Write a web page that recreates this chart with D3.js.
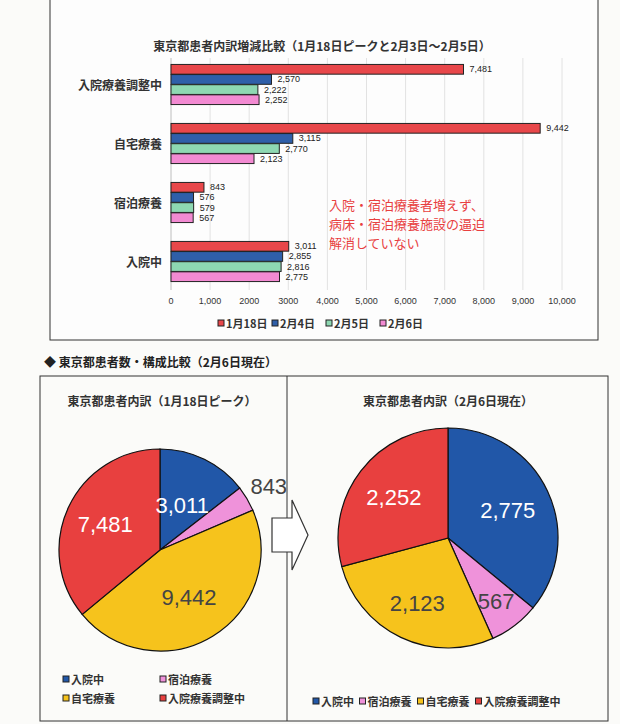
<!DOCTYPE html><html><head><meta charset="utf-8"><script src="https://cdn.jsdelivr.net/npm/d3@7"></script>
<style>body{margin:0;background:#fbfbf9}text{font-family:"Noto Sans CJK JP",sans-serif}text.num{font-family:"Liberation Sans",Arial,sans-serif}</style></head><body><svg id="c" width="620" height="724"></svg>
<script>
const categories=["入院療養調整中","自宅療養","宿泊療養","入院中"];
const seriesNames=["1月18日","2月4日","2月5日","2月6日"];
const jan18=[7481,9442,843,3011];
const feb4=[2570,3115,576,2855];
const feb5=[2222,2770,579,2816];
const feb6=[2252,2123,567,2775];
const ticks=[0,1000,2000,3000,4000,5000,6000,7000,8000,9000,10000];
const pieCats=["入院中","宿泊療養","自宅療養","入院療養調整中"];
const pieJan18=[3011,843,9442,7481];
const pieFeb6=[2775,567,2123,2252];
const barColors=["#e8474a","#2f5fa9","#8ed8b2","#f28ad2"];
const pieColors=["#2157a8","#ef92da","#f6c31c","#e8403f"];
const svg=d3.select("#c");
svg.append("rect").attr("x",50).attr("y",-2).attr("width",548).attr("height",342).attr("fill","#fdfdfd").attr("stroke","#333");
svg.append("text").attr("x",322).attr("y",51).attr("text-anchor","middle").attr("font-size",12).attr("font-weight","bold").attr("fill","#333").text("東京都患者内訳増減比較（1月18日ピークと2月3日～2月5日）");
const x=d3.scaleLinear().domain([0,10000]).range([171,562]);
const y=d3.scaleBand().domain(categories).range([55,291]).paddingInner(0.32).paddingOuter(0.16);
const ser=[jan18,feb4,feb5,feb6];
svg.append("g").selectAll("line").data(ticks).join("line").attr("x1",d=>x(d)).attr("x2",d=>x(d)).attr("y1",58).attr("y2",290).attr("stroke","#e2e2e2");
svg.append("line").attr("x1",171).attr("x2",171).attr("y1",58).attr("y2",290).attr("stroke","#ccc");
categories.forEach((c,i)=>{
  const sb=d3.scaleBand().domain(d3.range(4)).range([y(c),y(c)+y.bandwidth()]).paddingInner(0.04);
  ser.forEach((s,j)=>{
    svg.append("rect").attr("x",x(0)).attr("y",sb(j)).attr("width",x(s[i])-x(0)).attr("height",sb.bandwidth()).attr("fill",barColors[j]).attr("stroke","#222").attr("stroke-width",1);
    svg.append("text").attr("class","num").attr("x",x(s[i])+6).attr("y",sb(j)+sb.bandwidth()/2+3).attr("font-size",9).attr("fill","#222").text(d3.format(",")(s[i]));
  });
  svg.append("text").attr("x",162).attr("y",y(c)+y.bandwidth()/2+5).attr("text-anchor","end").attr("font-size",12).attr("font-weight","bold").attr("fill","#333").text(c);
});
svg.append("g").selectAll("text").data(ticks).join("text").attr("class","num").attr("x",d=>x(d)).attr("y",304).attr("text-anchor","middle").attr("font-size",9).attr("fill","#333").text(d=>d3.format(",")(d).replace(/^([23]),000$/,"$1000"));
seriesNames.forEach((n,i)=>{
  const lx=218+i*54;
  svg.append("rect").attr("x",lx).attr("y",320).attr("width",6).attr("height",6).attr("fill",barColors[i]).attr("stroke","#222");
  svg.append("text").attr("x",lx+8).attr("y",328).attr("font-size",11).attr("font-weight","bold").attr("fill","#333").text(n);
});
["入院・宿泊療養者増えず、","病床・宿泊療養施設の逼迫","解消していない"].forEach((t,i)=>svg.append("text").attr("x",329).attr("y",210+i*19).attr("font-size",13).attr("fill","#e8403f").text(t));
svg.append("text").attr("x",44).attr("y",367).attr("font-size",12).attr("font-weight","bold").attr("fill","#222").text("◆ 東京都患者数・構成比較（2月6日現在）");
svg.append("rect").attr("x",40).attr("y",376).attr("width",568).attr("height",345).attr("fill","none").attr("stroke","#333");
svg.append("line").attr("x1",287).attr("x2",287).attr("y1",376).attr("y2",721).attr("stroke","#333");
svg.append("text").attr("x",162).attr("y",406).attr("text-anchor","middle").attr("font-size",12).attr("font-weight","bold").attr("fill","#333").text("東京都患者内訳（1月18日ピーク）");
svg.append("text").attr("x",448).attr("y",406).attr("text-anchor","middle").attr("font-size",12).attr("font-weight","bold").attr("fill","#333").text("東京都患者内訳（2月6日現在）");
function pie(vals,cx,cy,r,labelCols,labelPos){
  const arcs=d3.pie().sort(null)(vals);
  const g=svg.append("g").attr("transform",`translate(${cx},${cy})`);
  g.selectAll("path").data(arcs).join("path").attr("d",d3.arc().innerRadius(0).outerRadius(r)).attr("fill",(d,i)=>pieColors[i]).attr("stroke","#111").attr("stroke-width",1.2);
  arcs.forEach((a,i)=>{
    const m=(a.startAngle+a.endAngle)/2, rr=r*labelPos[i];
    g.append("text").attr("class","num").attr("x",Math.sin(m)*rr).attr("y",-Math.cos(m)*rr+8).attr("text-anchor","middle").attr("font-size",22).attr("fill",labelCols[i]).text(d3.format(",")(vals[i]));
  });
}
pie(pieJan18,160,550,101,["#fff","#444","#444","#fff"],[0.5,1.25,0.55,0.6]);
pie(pieFeb6,448,538,110,["#fff","#444","#444","#fff"],[0.6,0.72,0.65,0.62]);
svg.append("path").attr("d","M272,518 L292,518 L292,500 L308,535 L292,570 L292,552 L272,552 Z").attr("fill","#fff").attr("stroke","#333").attr("stroke-width",1.2);
const leg=(n,i,lx,ly)=>{svg.append("rect").attr("x",lx).attr("y",ly-8).attr("width",6).attr("height",6).attr("fill",pieColors[i]).attr("stroke","#222");svg.append("text").attr("x",lx+8).attr("y",ly).attr("font-size",11).attr("font-weight","bold").attr("fill","#333").text(n);};
leg(pieCats[0],0,63,684);leg(pieCats[1],1,160,684);leg(pieCats[2],2,63,703);leg(pieCats[3],3,160,703);
let lx=313;pieCats.forEach((n,i)=>{leg(n,i,lx,706);lx+=n.length*11.5+12;});
</script></body></html>
